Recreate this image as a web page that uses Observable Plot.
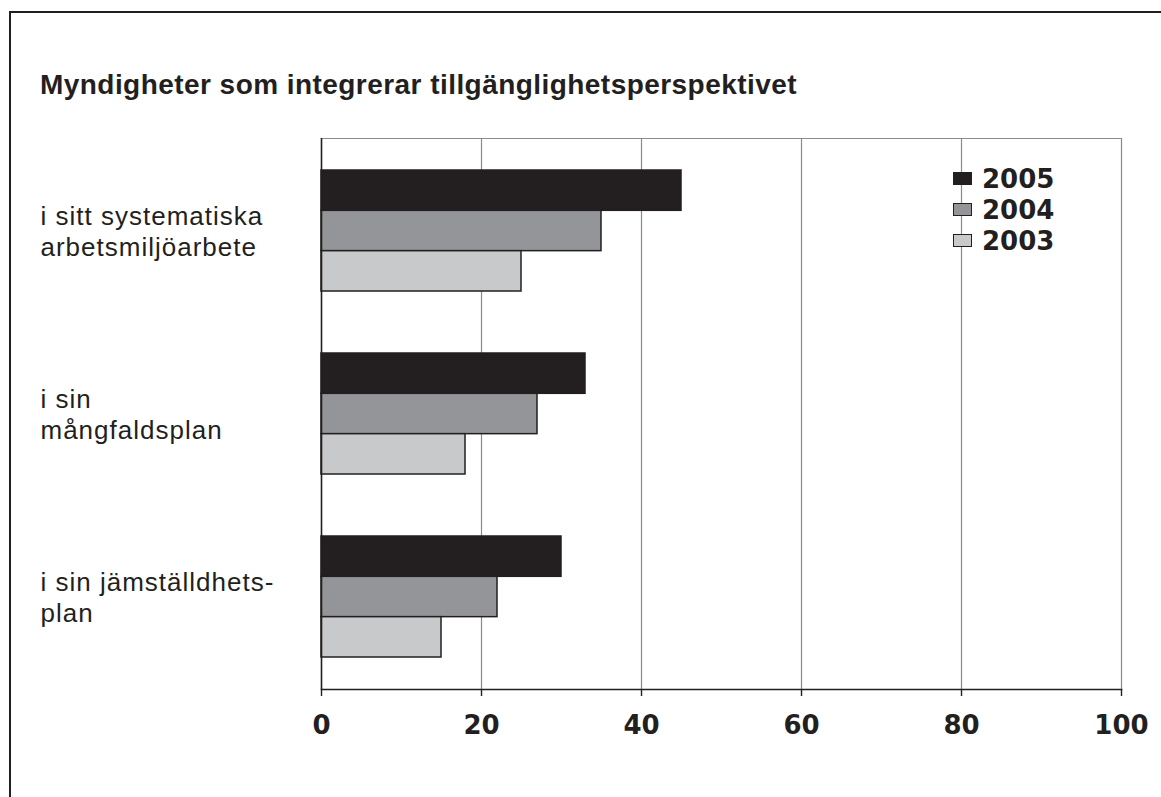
<!DOCTYPE html>
<html><head><meta charset="utf-8">
<script src="https://cdn.jsdelivr.net/npm/d3@7"></script>
<script src="https://cdn.jsdelivr.net/npm/@observablehq/plot@0.6"></script>
<style>
body{margin:0;background:#fff;}
#wrap{position:relative;width:1161px;height:797px;overflow:hidden;background:#fff;}
#border{position:absolute;left:9px;top:11px;width:1200px;height:840px;border-top:2px solid #231f20;border-left:2px solid #231f20;}
#title{position:absolute;left:40px;top:70px;font-family:"Liberation Sans",Arial,sans-serif;font-weight:bold;font-size:28px;line-height:30px;color:#231f20;white-space:nowrap;}
#chart{position:absolute;left:0;top:0;}
#legend{position:absolute;left:953px;top:163px;font-family:"DejaVu Sans";font-weight:bold;font-size:26px;color:#231f20;}
.item{display:flex;align-items:center;height:31px;}
.sw{width:17px;height:11px;border:1.5px solid #231f20;margin-right:10px;}
</style></head>
<body>
<div id="wrap">
  <div id="border"></div>
  <div id="chart"></div>
  <div id="title"></div>
  <div id="legend"></div>
</div>
<script>
const title = "Myndigheter som integrerar tillgänglighetsperspektivet";
const categories = ["i sitt systematiska\narbetsmiljöarbete", "i sin\nmångfaldsplan", "i sin jämställdhets-\nplan"];
const years = ["2005", "2004", "2003"];
const values2005 = [45, 33, 30];
const values2004 = [35, 27, 22];
const values2003 = [25, 18, 15];
const yearColors = ["#231f20", "#939598", "#c8c9cb"];
const xTicks = [0, 20, 40, 60, 80, 100];

const seriesValues = [values2005, values2004, values2003];
const data = [];
years.forEach((yr, k) => categories.forEach((c, i) => data.push({category: c, year: yr, value: seriesValues[k][i]})));

// title, fitted to reference width
const tEl = document.getElementById("title");
tEl.textContent = title;
const cv = document.createElement("canvas").getContext("2d");
cv.font = 'bold 28px "Liberation Sans"';
const tw = cv.measureText(title).width;
tEl.style.letterSpacing = Math.max(0, (757 - tw) / title.length) + "px";

// legend
const leg = document.getElementById("legend");
years.forEach((yr, k) => {
  const it = document.createElement("div"); it.className = "item";
  const sw = document.createElement("div"); sw.className = "sw"; sw.style.background = yearColors[k];
  const tx = document.createElement("span"); tx.textContent = yr;
  it.appendChild(sw); it.appendChild(tx); leg.appendChild(it);
});

const W = 1161, H = 797, mT = 138, mB = 108, mL = 321, mR = 40;
const padIn = 0.341, padOut = 0.1705;
const step = (H - mT - mB) / (categories.length - padIn + 2 * padOut);
const B = step * (1 - padIn);

const bars = years.map((yr, k) => Plot.barX(data.filter(d => d.year === yr), {
  x: "value", y: "category", fill: yearColors[k], stroke: "#231f20", strokeWidth: 1.5,
  insetTop: k * B / 3, insetBottom: (years.length - 1 - k) * B / 3
}));

const chart = Plot.plot({
  width: W, height: H,
  marginTop: mT, marginBottom: mB, marginLeft: mL, marginRight: mR,
  style: {background: "transparent", color: "#231f20"},
  x: {domain: [0, 100], axis: null},
  y: {domain: categories, paddingInner: padIn, paddingOuter: padOut, axis: null},
  marks: [
    Plot.ruleX(xTicks.filter(t => t > 0 && t < 100), {stroke: "#8a8a8a", strokeWidth: 1.2}),
    Plot.ruleX([100], {stroke: "#8a8a8a", strokeWidth: 1.2}),
    Plot.frame({anchor: "top", stroke: "#8a8a8a", strokeWidth: 1.2}),
    ...bars,
    Plot.ruleX([0], {stroke: "#231f20", strokeWidth: 1.6}),
    Plot.frame({anchor: "bottom", stroke: "#231f20", strokeWidth: 1.6}),
    Plot.axisX({ticks: xTicks, label: null, tickSize: 7, tickPadding: 19, stroke: "#231f20", strokeWidth: 1.4,
      fontSize: 26, fontWeight: "bold", fontFamily: "DejaVu Sans", fill: "#231f20", tickFormat: d => String(d)}),
    Plot.text(categories, {y: d => d, text: d => d, frameAnchor: "left", dx: -(mL - 40), textAnchor: "start",
      lineAnchor: "middle", lineHeight: 1.19, fontSize: 26, fontFamily: "Liberation Sans", fill: "#231f20",
      className: "catlabel"})
  ]
});
d3.select(chart).selectAll(".catlabel text").style("letter-spacing", "1px");
document.getElementById("chart").appendChild(chart);
</script>
</body></html>
